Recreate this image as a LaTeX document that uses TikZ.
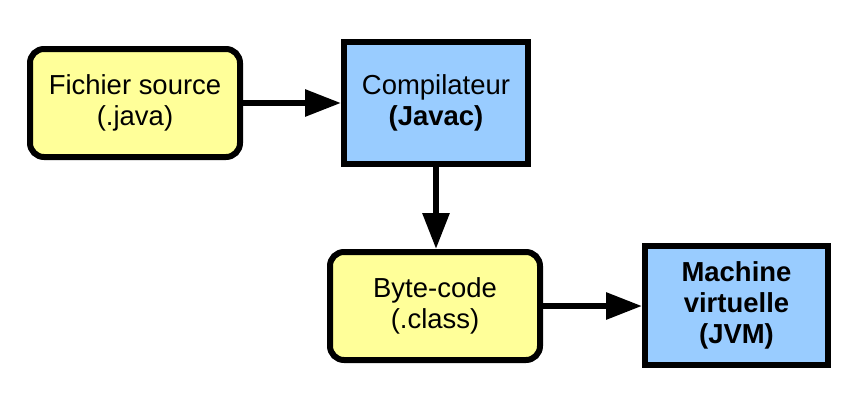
\documentclass[tikz,border=0pt]{standalone}
\usepackage{fontspec}
\setmainfont{Liberation Sans}
\usetikzlibrary{arrows.meta}
\definecolor{boxyellow}{RGB}{255,255,153}
\definecolor{boxblue}{RGB}{153,204,255}
\tikzset{
  base/.style={draw=black, line width=4.5pt, align=center, inner sep=0pt,
    font=\fontsize{20.6}{23}\selectfont},
  filebox/.style={base, fill=boxyellow, rounded corners=10.5pt,
    minimum width=157.5pt, minimum height=81pt},
  toolbox/.style={base, fill=boxblue},
  flow/.style={line width=4.5pt, -{Triangle[length=27pt,width=19.5pt]}}
}
\begin{document}
\begin{tikzpicture}[x=0.75pt,y=-0.75pt]
\useasboundingbox (0,0) rectangle (853,411);
\node[filebox] (src) at (135,103) {Fichier source\\(.java)};
\node[toolbox, minimum width=138pt, minimum height=91.5pt] (comp) at (436,103) {Compilateur\\\textbf{(Javac)}};
\node[filebox] (bc) at (435,306) {Byte-code\\(.class)};
\node[toolbox, minimum width=137.25pt, minimum height=89.25pt] (jvm) at (736.5,305.5) {\textbf{Machine}\\\textbf{virtuelle}\\\textbf{(JVM)}};
\draw[flow] (src.east) -- (comp.west);
\draw[flow] (comp.south) -- (comp.south |- bc.north);
\draw[flow] (bc.east) -- (jvm.west |- bc.east);
\end{tikzpicture}
\end{document}
